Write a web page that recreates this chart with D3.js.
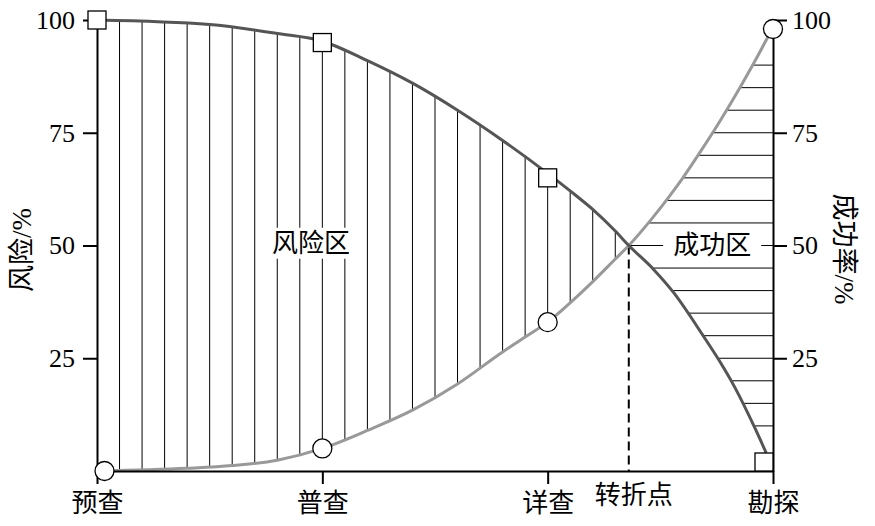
<!DOCTYPE html>
<html>
<head>
<meta charset="utf-8">
<script src="https://cdn.jsdelivr.net/npm/d3@7"></script>
<style>
  body { margin: 0; background: #fff; }
  svg text { font-family: "Liberation Serif", "Noto Sans CJK SC", serif; fill: #000; }
</style>
</head>
<body>
<div id="chart"></div>
<script>
// stages along the x axis (0..3), turning point between 详查 and 勘探
var stages = ["预查", "普查", "详查", "勘探"];
var stagePos = [0, 1, 2, 3];
var turnLabel = "转折点";
var turnPos = 2.36;
var yTicks = [25, 50, 75, 100];

// marker values at each stage
var riskMarks = [100, 95, 65, 0];
var successMarks = [0, 5, 33, 98];

// risk curve
var riskT = [0, 0.5, 0.8, 1, 1.2, 1.4, 1.6, 1.8, 2, 2.12, 2.2, 2.3, 2.36, 2.47, 2.56, 2.69, 2.76, 2.83, 2.92, 2.97];
var riskV = [100, 99, 97, 95.3, 91, 86, 80, 73.3, 66, 61.3, 58, 53.2, 50, 44.7, 39.5, 30, 24.6, 18.6, 9.5, 4];

// success curve
var successT = [0, 0.4, 0.6, 0.8, 1, 1.2, 1.4, 1.6, 1.8, 1.9, 2, 2.12, 2.2, 2.3, 2.36, 2.46, 2.54, 2.6, 2.67, 2.74, 2.8, 2.86, 2.92, 2.98];
var successV = [0, 0.6, 1.2, 2.4, 5, 9, 13.5, 19.3, 26.4, 29.7, 33, 38.2, 42, 47, 50, 55.8, 60.9, 65, 70.2, 75.6, 80.5, 85.6, 90.9, 96.5];

(function () {
  var w = 875, h = 526;

  var svg = d3.select("#chart").append("svg")
      .attr("width", w)
      .attr("height", h);

  var x = d3.scaleLinear().domain([0, 3]).range([97, 773]);
  var y = d3.scaleLinear().domain([0, 100]).range([471, 20]);

  var risk = riskT.map(function(t, i) { return [t, riskV[i]]; });
  var success = successT.map(function(t, i) { return [t, successV[i]]; });

  var smooth = d3.line()
      .x(function(d) { return x(d[0]); })
      .y(function(d) { return y(d[1]); })
      .curve(d3.curveMonotoneX);
  var poly = d3.line()
      .x(function(d) { return x(d[0]); })
      .y(function(d) { return y(d[1]); });

  // clip regions between the two curves
  var left = risk.filter(function(d) { return d[0] <= turnPos; })
      .concat(success.filter(function(d) { return d[0] <= turnPos; }).reverse());
  var rSucc = success.filter(function(d) { return d[0] >= turnPos; });
  var rRisk = risk.filter(function(d) { return d[0] >= turnPos; });
  var right = rSucc
      .concat([[3, rSucc[rSucc.length - 1][1]], [3, rRisk[rRisk.length - 1][1]]])
      .concat(rRisk.slice().reverse());

  var defs = svg.append("defs");
  defs.append("clipPath").attr("id", "riskZone")
    .append("path").attr("d", poly(left) + "Z");
  defs.append("clipPath").attr("id", "succZone")
    .append("path").attr("d", poly(right) + "Z");

  // vertical hatching (risk zone)
  svg.append("g").attr("clip-path", "url(#riskZone)")
    .selectAll("line")
    .data(d3.range(1, 24).map(function(k) { return k / 10; }))
    .enter().append("line")
      .attr("x1", function(d) { return x(d); })
      .attr("x2", function(d) { return x(d); })
      .attr("y1", y(100))
      .attr("y2", y(0))
      .attr("stroke", "#000")
      .attr("stroke-width", 1);

  // horizontal hatching (success zone)
  svg.append("g").attr("clip-path", "url(#succZone)")
    .selectAll("line")
    .data(d3.range(10, 95, 5).filter(function(v) { return v !== 50; }))
    .enter().append("line")
      .attr("x1", x(turnPos) - 5)
      .attr("x2", x(3))
      .attr("y1", function(d) { return y(d); })
      .attr("y2", function(d) { return y(d); })
      .attr("stroke", "#000")
      .attr("stroke-width", 1);

  svg.append("line")
      .attr("x1", x(turnPos)).attr("x2", x(3))
      .attr("y1", y(50)).attr("y2", y(50))
      .attr("stroke", "#000").attr("stroke-width", 1);

  // zone labels with white backing
  function zoneLabel(txt, t, v, padX, padY) {
    var g = svg.append("g");
    var rect = g.append("rect").attr("fill", "#fff");
    var tx = g.append("text")
        .attr("x", x(t))
        .attr("y", y(v))
        .attr("text-anchor", "middle")
        .attr("dominant-baseline", "central")
        .attr("font-size", "26px")
        .text(txt);
    var b = tx.node().getBBox();
    rect.attr("x", b.x - padX).attr("y", b.y - padY)
        .attr("width", b.width + 2 * padX).attr("height", b.height + 2 * padY);
  }
  zoneLabel("风险区", 0.95, 50.5, 4, 1);
  zoneLabel("成功区", 2.73, 50, 10, 1);

  // dashed turning line
  svg.append("line")
      .attr("x1", x(turnPos)).attr("x2", x(turnPos))
      .attr("y1", y(50)).attr("y2", y(0))
      .attr("stroke", "#000")
      .attr("stroke-width", 2)
      .attr("stroke-dasharray", "9,5");

  // curves
  svg.append("path").datum(success)
      .attr("d", smooth)
      .attr("fill", "none")
      .attr("stroke", "#999")
      .attr("stroke-width", 3);
  svg.append("path").datum(risk)
      .attr("d", smooth)
      .attr("fill", "none")
      .attr("stroke", "#555")
      .attr("stroke-width", 3);

  // axes
  var yl = svg.append("g")
      .attr("transform", "translate(" + x(0) + ",0)")
      .call(d3.axisLeft(y).tickValues(yTicks).tickSize(14).tickSizeOuter(0).tickPadding(8));
  var yr = svg.append("g")
      .attr("transform", "translate(" + x(3) + ",0)")
      .call(d3.axisRight(y).tickValues(yTicks).tickSize(14).tickSizeOuter(0).tickPadding(5));
  var xb = svg.append("g")
      .attr("transform", "translate(0," + y(0) + ")")
      .call(d3.axisBottom(x).tickValues(stagePos)
        .tickFormat(function(d, i) { return stages[i]; })
        .tickSize(13).tickSizeOuter(0));

  [yl, yr, xb].forEach(function(g) {
    g.select(".domain").attr("stroke-width", 2);
    g.selectAll(".tick line").attr("stroke-width", 2);
    g.selectAll("text").attr("font-size", "26px")
      .attr("font-family", "'Liberation Serif', 'Noto Sans CJK SC', serif");
  });
  xb.selectAll(".tick text").attr("dy", null).attr("y", 41);

  svg.append("text")
      .attr("x", x(turnPos) + 5)
      .attr("y", y(0) + 33)
      .attr("text-anchor", "middle")
      .attr("font-size", "26px")
      .text(turnLabel);

  // axis titles
  svg.append("text")
      .attr("transform", "translate(22,250) rotate(-90)")
      .attr("text-anchor", "middle")
      .attr("dominant-baseline", "central")
      .attr("font-size", "27px")
      .text("风险/%");
  svg.append("text")
      .attr("transform", "translate(844,249) rotate(90)")
      .attr("text-anchor", "middle")
      .attr("dominant-baseline", "central")
      .attr("font-size", "27px")
      .text("成功率/%");

  // markers
  var side = 18;
  svg.selectAll("rect.mk")
    .data(riskMarks)
    .enter().append("rect")
      .attr("class", "mk")
      .attr("x", function(d, i) { return x(stagePos[i]) - (i === 3 ? side : side / 2); })
      .attr("y", function(d, i) { return y(d) - (i === 3 ? side : side / 2); })
      .attr("width", side)
      .attr("height", side)
      .attr("fill", "#fff")
      .attr("stroke", "#000")
      .attr("stroke-width", 1.3);

  svg.selectAll("circle.mk")
    .data(successMarks)
    .enter().append("circle")
      .attr("class", "mk")
      .attr("cx", function(d, i) { return x(stagePos[i]) + (i === 0 ? 7.5 : 0); })
      .attr("cy", function(d) { return y(d); })
      .attr("r", 9.5)
      .attr("fill", "#fff")
      .attr("stroke", "#000")
      .attr("stroke-width", 1.3);
})();
</script>
</body>
</html>
